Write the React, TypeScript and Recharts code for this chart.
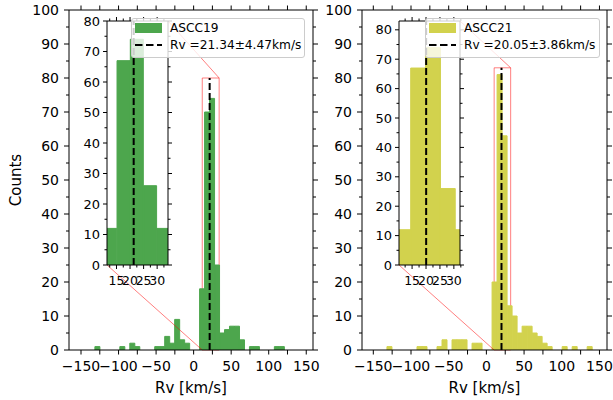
import React from 'react';
import { ComposedChart, Bar, XAxis, YAxis, ReferenceLine, ReferenceArea, Legend } from 'recharts';

// ---------------- data ----------------
const clusterNames = ['ASCC19', 'ASCC21'];
const meanRv = [21.34, 20.05];
const errRv = [4.47, 3.86];

const ascc19BinCenters = [
  -128.18, -121.54, -114.9, -108.26, -101.62, -94.98, -88.34, -81.7, -75.06, -68.42,
  -61.78, -55.14, -48.5, -41.86, -35.22, -28.58, -21.94, -15.3, -8.66, -2.02,
  4.62, 11.26, 17.9, 24.54, 31.18, 37.82, 44.46, 51.1, 57.74, 64.38,
  71.02, 77.66, 84.3, 90.94, 97.58, 104.22, 110.86, 117.5, 124.14,
];
const ascc19Counts = [
  1, 0, 0, 0, 0, 1, 0, 2, 1, 0,
  0, 0, 1, 1, 4, 2, 9, 3, 2, 0,
  0, 18, 70, 74, 25, 5, 6, 7, 7, 3,
  0, 1, 1, 0, 0, 0, 1, 1, 0,
];

const ascc21BinCenters = [
  -128.58, -121.94, -115.3, -108.66, -102.02, -95.38, -88.74, -82.1, -75.46, -68.82,
  -62.18, -55.54, -48.9, -42.26, -35.62, -28.98, -22.34, -15.7, -9.06, -2.42,
  4.22, 10.86, 17.5, 24.14, 30.78, 37.42, 44.06, 50.7, 57.34, 63.98,
  70.62, 77.26, 83.9, 90.54, 97.18, 103.82, 110.46, 117.1, 123.74, 130.38, 137.02,
];
const ascc21Counts = [
  1, 0, 0, 0, 0, 0, 1, 1, 0, 0,
  1, 3, 0, 3, 3, 3, 0, 2, 2, 0,
  0, 20, 81, 63, 13, 10, 5, 7, 7, 5,
  4, 2, 1, 0, 0, 1, 0, 1, 0, 0, 1,
];

const ascc19InsetCenters = [12.75, 17.65, 22.55, 27.45, 32.35];
const ascc19InsetCounts = [12, 67, 74, 26, 12];
const ascc21InsetCenters = [11.85, 17.15, 22.45, 27.75, 33.05];
const ascc21InsetCounts = [12, 67, 74, 26, 12];

const mainXTicks = [-150, -125, -100, -75, -50, -25, 0, 25, 50, 75, 100, 125, 150];
const mainYTicks = [0, 5, 10, 15, 20, 25, 30, 35, 40, 45, 50, 55, 60, 65, 70, 75, 80, 85, 90, 95, 100];
const insetXTicks = [12.5, 15, 17.5, 20, 22.5, 25, 27.5, 30, 32.5];
const insetYTicks = [0, 5, 10, 15, 20, 25, 30, 35, 40, 45, 50, 55, 60, 65, 70, 75, 80];

// ---------------- layout / style ----------------
const FIG_W = 613;
const FIG_H = 400;
const FONT = "'DejaVu Sans', sans-serif";
const RED = 'rgba(255,0,0,0.5)';
const Y_DOMAIN: [number, number] = [0, 100];

const Y_AXIS_W = 40;
const R_AXIS_W = 5;
const T_AXIS_H = 6;
const X_AXIS_H = 30;

type Box = { l: number; r: number; t: number; b: number };
type PanelCfg = {
  name: string;
  color: string;
  centers: number[];
  counts: number[];
  insetCenters: number[];
  insetCounts: number[];
  mean: number;
  err: number;
  plot: Box;
  xDomain: [number, number];
  inset: Box;
  insetX: [number, number];
  insetYMax: number;
  legend: { left: number; top: number; width: number };
  showYLabel: boolean;
};

const panels: PanelCfg[] = [
  {
    name: clusterNames[0],
    color: '#4da64d',
    centers: ascc19BinCenters,
    counts: ascc19Counts,
    insetCenters: ascc19InsetCenters,
    insetCounts: ascc19InsetCounts,
    mean: meanRv[0],
    err: errRv[0],
    plot: { l: 69, r: 313, t: 10, b: 350 },
    xDomain: [-166, 159],
    inset: { l: 107, r: 168, t: 21, b: 265 },
    insetX: [11.5, 34],
    insetYMax: 80,
    legend: { left: 131, top: 18, width: 174 },
    showYLabel: true,
  },
  {
    name: clusterNames[1],
    color: '#d2d24d',
    centers: ascc21BinCenters,
    counts: ascc21Counts,
    insetCenters: ascc21InsetCenters,
    insetCounts: ascc21InsetCounts,
    mean: meanRv[1],
    err: errRv[1],
    plot: { l: 362, r: 607, t: 10, b: 350 },
    xDomain: [-165, 160],
    inset: { l: 399, r: 460, t: 21, b: 265 },
    insetX: [10.3, 32.2],
    insetYMax: 83,
    legend: { left: 425, top: 18, width: 175 },
    showYLabel: false,
  },
];

// ---------------- ticks ----------------
type Side = 'bottom' | 'top' | 'left' | 'right';
type TickStyle = {
  side: Side;
  labelStep: number;
  majorStep: number;
  majorLen: number;
  minorLen: number;
  fontSize: number;
  pad: number;
};
const isMult = (v: number, s: number) => s > 0 && Math.abs(v / s - Math.round(v / s)) < 1e-6;
const fmt = (v: number) => (v < 0 ? '\u2212' + Math.abs(v) : String(v));

function makeTick(st: TickStyle) {
  return (props: any) => {
    const { x, y, payload } = props;
    const v = Number(payload.value);
    const len = isMult(v, st.majorStep) ? st.majorLen : st.minorLen;
    const lab = isMult(v, st.labelStep);
    let line: React.ReactNode = null;
    let text: React.ReactNode = null;
    const tp = { fontSize: st.fontSize, fontFamily: FONT, fill: '#000', stroke: 'none' };
    if (st.side === 'bottom') {
      line = <line x1={x} x2={x} y1={y} y2={y + len} />;
      if (lab) text = <text x={x} y={y + st.pad} textAnchor="middle" {...tp}>{fmt(v)}</text>;
    } else if (st.side === 'top') {
      line = <line x1={x} x2={x} y1={y} y2={y - len} />;
    } else if (st.side === 'left') {
      line = <line x1={x} x2={x - len} y1={y} y2={y} />;
      if (lab) text = <text x={x - st.pad} y={y} dy="0.36em" textAnchor="end" {...tp}>{fmt(v)}</text>;
    } else {
      line = <line x1={x} x2={x + len} y1={y} y2={y} />;
    }
    return (
      <g stroke="#000" strokeWidth={1}>
        {line}
        {text}
      </g>
    );
  };
}

const axisCommon = {
  tickLine: false,
  tickSize: 0,
  tickMargin: 0,
  interval: 0 as const,
  allowDataOverflow: true,
  axisLine: { stroke: '#000', strokeWidth: 1 },
};

// ---------------- legend ----------------
function LegendBox({ p }: { p: PanelCfg }) {
  return (
    <div
      style={{
        position: 'relative',
        width: p.legend.width,
        height: 40,
        boxSizing: 'border-box',
        border: '1px solid #cccccc',
        borderRadius: 3,
        background: 'rgba(255,255,255,0.8)',
        fontFamily: FONT,
        fontSize: 12.2,
        color: '#000',
        lineHeight: '14px',
        whiteSpace: 'nowrap',
      }}
    >
      <div style={{ position: 'absolute', left: 3, top: 4, width: 27, height: 10, background: p.color }} />
      <div style={{ position: 'absolute', left: 38, top: 2 }}>{p.name}</div>
      <svg style={{ position: 'absolute', left: 3, top: 24 }} width={27} height={4}>
        <line x1={0} x2={27} y1={2} y2={2} stroke="#000" strokeWidth={2} strokeDasharray="7.5 3.5" />
      </svg>
      <div style={{ position: 'absolute', left: 38, top: 19 }}>
        {`Rv =${p.mean.toFixed(2)}\u00b1${p.err.toFixed(2)}km/s`}
      </div>
    </div>
  );
}

// ---------------- panels ----------------
function MainPanel({ p }: { p: PanelCfg }) {
  const data = p.centers.map((x, i) => ({ x, count: p.counts[i] }));
  const { l, r, t, b } = p.plot;
  const margin = {
    left: l - Y_AXIS_W,
    right: FIG_W - r - R_AXIS_W,
    top: t - T_AXIS_H,
    bottom: FIG_H - b - X_AXIS_H,
  };
  const toX = (px: number) => p.xDomain[0] + ((px - l) / (r - l)) * (p.xDomain[1] - p.xDomain[0]);
  const toY = (py: number) => Y_DOMAIN[0] + ((b - py) / (b - t)) * (Y_DOMAIN[1] - Y_DOMAIN[0]);
  const ins = p.inset;

  return (
    <div style={{ position: 'absolute', left: 0, top: 0 }}>
      <ComposedChart width={FIG_W} height={FIG_H} data={data} margin={margin} barCategoryGap={0} barGap={0}>
        <XAxis
          {...axisCommon}
          xAxisId="b"
          dataKey="x"
          type="number"
          domain={p.xDomain}
          ticks={mainXTicks}
          height={X_AXIS_H}
          tick={makeTick({ side: 'bottom', labelStep: 50, majorStep: 25, majorLen: 4.5, minorLen: 4.5, fontSize: 14, pad: 21 })}
          label={{
            content: () => (
              <text x={(l + r) / 2} y={393} textAnchor="middle" fontSize={15} fontFamily={FONT} fill="#000">
                Rv [km/s]
              </text>
            ),
          }}
        />
        <XAxis
          {...axisCommon}
          xAxisId="t"
          orientation="top"
          dataKey="x"
          type="number"
          domain={p.xDomain}
          ticks={mainXTicks}
          height={T_AXIS_H}
          tick={makeTick({ side: 'top', labelStep: 0, majorStep: 25, majorLen: 4.5, minorLen: 4.5, fontSize: 14, pad: 0 })}
        />
        <YAxis
          {...axisCommon}
          yAxisId="l"
          type="number"
          domain={Y_DOMAIN}
          ticks={mainYTicks}
          width={Y_AXIS_W}
          tick={makeTick({ side: 'left', labelStep: 10, majorStep: 10, majorLen: 5, minorLen: 3, fontSize: 14, pad: 10 })}
          label={
            p.showYLabel
              ? {
                  content: () => (
                    <text
                      x={16}
                      y={(t + b) / 2}
                      transform={`rotate(-90 16 ${(t + b) / 2})`}
                      textAnchor="middle"
                      dominantBaseline="central"
                      fontSize={15}
                      fontFamily={FONT}
                      fill="#000"
                    >
                      Counts
                    </text>
                  ),
                }
              : undefined
          }
        />
        <YAxis
          {...axisCommon}
          yAxisId="r"
          orientation="right"
          type="number"
          domain={Y_DOMAIN}
          ticks={mainYTicks}
          width={R_AXIS_W}
          tick={makeTick({ side: 'right', labelStep: 0, majorStep: 10, majorLen: 5, minorLen: 3, fontSize: 14, pad: 0 })}
        />
        <Bar
          xAxisId="b"
          yAxisId="l"
          dataKey="count"
          fill={p.color}
          stroke={p.color}
          strokeWidth={1}
          isAnimationActive={false}
        />
        <ReferenceArea
          xAxisId="b"
          yAxisId="l"
          x1={p.insetX[0]}
          x2={p.insetX[1]}
          y1={0}
          y2={p.insetYMax}
          fill="none"
          fillOpacity={0}
          stroke={RED}
          strokeWidth={1}
          ifOverflow="visible"
        />
        <ReferenceLine
          xAxisId="b"
          yAxisId="l"
          segment={[
            { x: toX(ins.l), y: toY(ins.b) },
            { x: p.insetX[0], y: 0 },
          ]}
          stroke={RED}
          strokeWidth={1}
          ifOverflow="visible"
        />
        <ReferenceLine
          xAxisId="b"
          yAxisId="l"
          segment={[
            { x: toX(ins.r), y: toY(ins.t) },
            { x: p.insetX[1], y: p.insetYMax },
          ]}
          stroke={RED}
          strokeWidth={1}
          ifOverflow="visible"
        />
        <ReferenceLine
          xAxisId="b"
          yAxisId="l"
          segment={[
            { x: p.mean, y: 0 },
            { x: p.mean, y: p.insetYMax },
          ]}
          stroke="#000"
          strokeWidth={2}
          strokeDasharray="7 3"
          ifOverflow="visible"
        />
        <Legend
          layout="vertical"
          align="center"
          verticalAlign="middle"
          width={p.legend.width}
          height={40}
          wrapperStyle={{ left: p.legend.left, top: p.legend.top, width: p.legend.width, height: 40, zIndex: 5 }}
          content={() => <LegendBox p={p} />}
        />
      </ComposedChart>
    </div>
  );
}

const IN_Y_W = 30;
const IN_R_W = 5;
const IN_T_H = 5;
const IN_X_H = 20;

function InsetPanel({ p }: { p: PanelCfg }) {
  const data = p.insetCenters.map((x, i) => ({ x, count: p.insetCounts[i] }));
  const { l, r, t, b } = p.inset;
  const margin = {
    left: l - IN_Y_W,
    right: FIG_W - r - IN_R_W,
    top: t - IN_T_H,
    bottom: FIG_H - b - IN_X_H,
  };
  const yDom: [number, number] = [0, p.insetYMax];
  return (
    <div style={{ position: 'absolute', left: 0, top: 0 }}>
      <ComposedChart width={FIG_W} height={FIG_H} data={data} margin={margin} barCategoryGap={0} barGap={0}>
        <XAxis
          {...axisCommon}
          xAxisId="b"
          dataKey="x"
          type="number"
          domain={p.insetX}
          ticks={insetXTicks}
          height={IN_X_H}
          tick={makeTick({ side: 'bottom', labelStep: 5, majorStep: 5, majorLen: 4, minorLen: 2.5, fontSize: 12.5, pad: 20 })}
        />
        <XAxis
          {...axisCommon}
          xAxisId="t"
          orientation="top"
          dataKey="x"
          type="number"
          domain={p.insetX}
          ticks={insetXTicks}
          height={IN_T_H}
          tick={makeTick({ side: 'top', labelStep: 0, majorStep: 5, majorLen: 4, minorLen: 2.5, fontSize: 12.5, pad: 0 })}
        />
        <YAxis
          {...axisCommon}
          yAxisId="l"
          type="number"
          domain={yDom}
          ticks={insetYTicks}
          width={IN_Y_W}
          tick={makeTick({ side: 'left', labelStep: 10, majorStep: 10, majorLen: 4, minorLen: 2.5, fontSize: 13, pad: 7 })}
        />
        <YAxis
          {...axisCommon}
          yAxisId="r"
          orientation="right"
          type="number"
          domain={yDom}
          ticks={insetYTicks}
          width={IN_R_W}
          tick={makeTick({ side: 'right', labelStep: 0, majorStep: 10, majorLen: 4, minorLen: 2.5, fontSize: 13, pad: 0 })}
        />
        <Bar
          xAxisId="b"
          yAxisId="l"
          dataKey="count"
          fill={p.color}
          stroke={p.color}
          strokeWidth={1}
          isAnimationActive={false}
        />
        <ReferenceLine
          xAxisId="b"
          yAxisId="l"
          x={p.mean}
          stroke="#000"
          strokeWidth={2}
          strokeDasharray="7 3"
        />
      </ComposedChart>
    </div>
  );
}

export default function App() {
  return (
    <div style={{ position: 'absolute', left: 0, top: 0, width: FIG_W, height: FIG_H, background: '#fff', overflow: 'hidden' }}>
      {panels.map((p) => (
        <MainPanel key={'m' + p.name} p={p} />
      ))}
      {panels.map((p) => (
        <InsetPanel key={'i' + p.name} p={p} />
      ))}
    </div>
  );
}
